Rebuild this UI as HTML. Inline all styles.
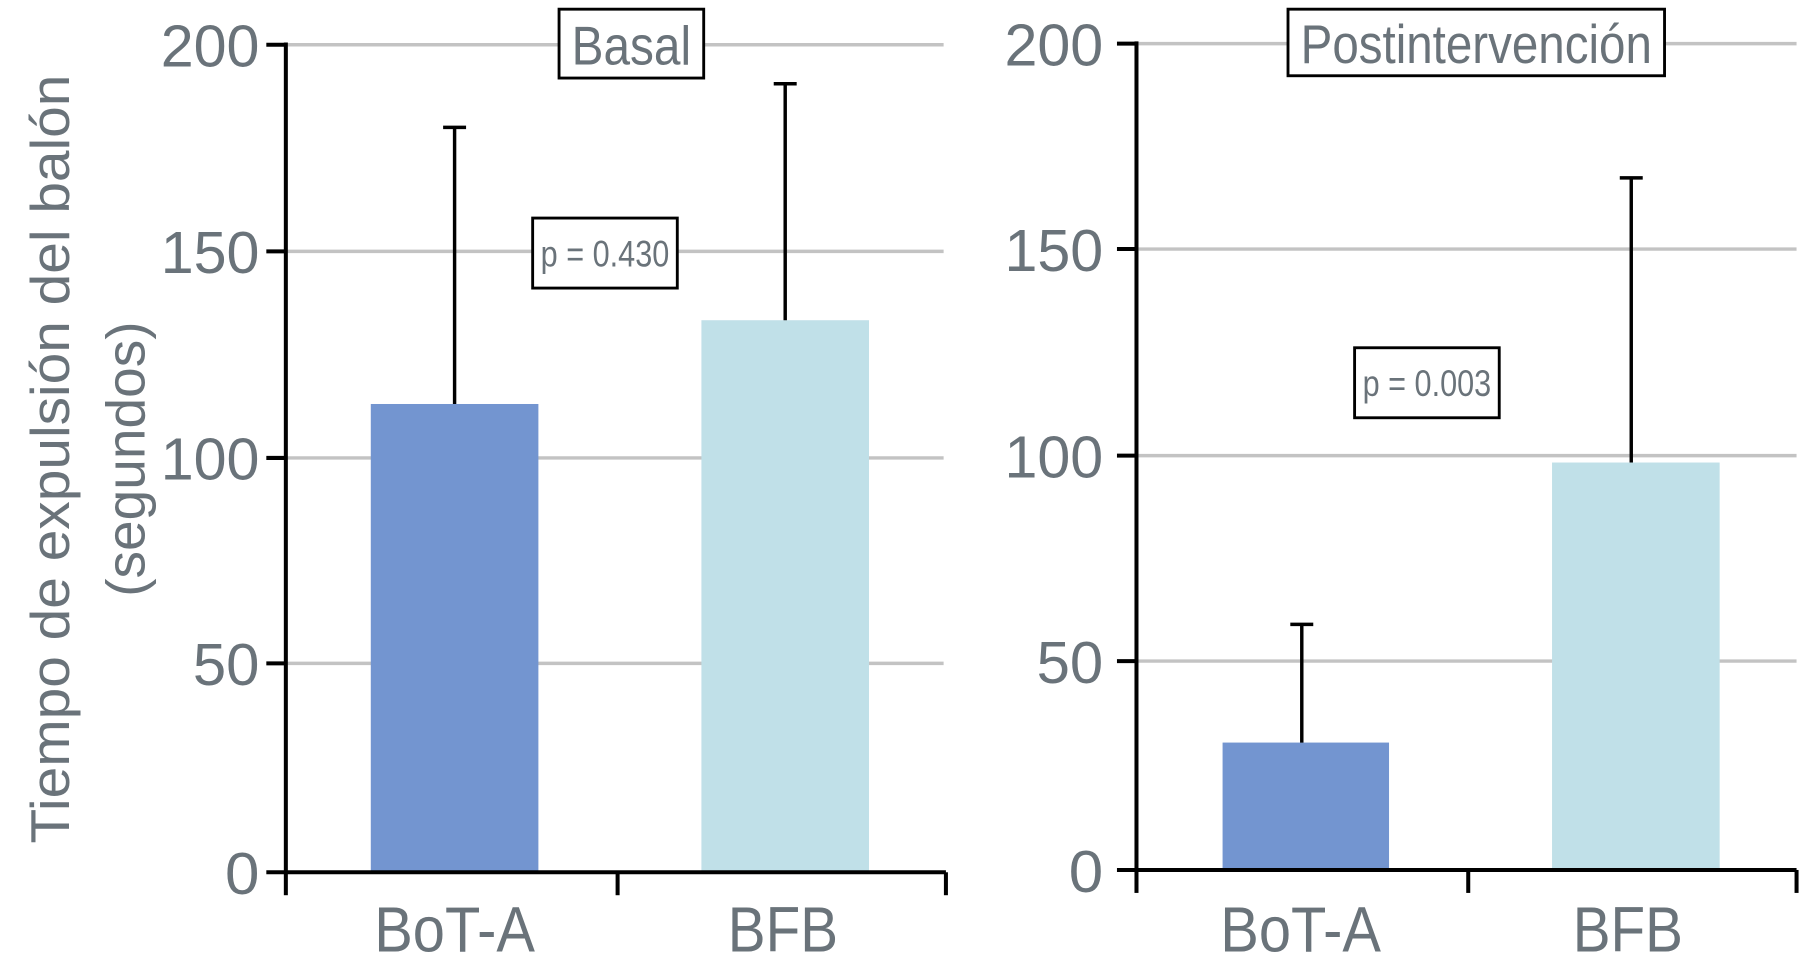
<!DOCTYPE html>
<html><head><meta charset="utf-8"><style>html,body{margin:0;padding:0;background:#fff;width:1800px;height:979px;overflow:hidden}svg{display:block}</style></head>
<body>
<svg width="1800" height="979" viewBox="0 0 1568 853" preserveAspectRatio="none" xmlns="http://www.w3.org/2000/svg" font-family="Liberation Sans, Arial, sans-serif" fill="#6a737a">
<rect width="1568" height="853" fill="#fff"/>
<g stroke="#c3c3c3" stroke-width="3">
<line x1="249" y1="39" x2="822" y2="39"/><line x1="249" y1="219" x2="822" y2="219"/><line x1="249" y1="399" x2="822" y2="399"/><line x1="249" y1="578" x2="822" y2="578"/>
<line x1="990" y1="38" x2="1565" y2="38"/><line x1="990" y1="217" x2="1565" y2="217"/><line x1="990" y1="397" x2="1565" y2="397"/><line x1="990" y1="576" x2="1565" y2="576"/>
</g>
<rect x="323" y="352" width="146" height="408" fill="#7395d0"/>
<rect x="611" y="279" width="146" height="481" fill="#c0e0e8"/>
<rect x="1065" y="647" width="145" height="111" fill="#7395d0"/>
<rect x="1352" y="403" width="146" height="355" fill="#c0e0e8"/>
<g stroke="#000" stroke-width="3">
<line x1="396" y1="352" x2="396" y2="111"/><line x1="386" y1="111" x2="406" y2="111"/>
<line x1="684" y1="279" x2="684" y2="73"/><line x1="674" y1="73" x2="694" y2="73"/>
<line x1="1134" y1="647" x2="1134" y2="544"/><line x1="1124" y1="544" x2="1144" y2="544"/>
<line x1="1421" y1="403" x2="1421" y2="155"/><line x1="1411" y1="155" x2="1431" y2="155"/>
</g>
<g stroke="#000" stroke-width="3.5" fill="none">
<polyline points="249,37 249,760 824,760"/>
<line x1="232" y1="39" x2="249" y2="39"/><line x1="232" y1="219" x2="249" y2="219"/><line x1="232" y1="399" x2="249" y2="399"/><line x1="232" y1="578" x2="249" y2="578"/><line x1="232" y1="760" x2="249" y2="760"/>
<line x1="249" y1="760" x2="249" y2="780"/><line x1="538" y1="760" x2="538" y2="780"/><line x1="824" y1="760" x2="824" y2="780"/>
<polyline points="990,36 990,758 1565,758"/>
<line x1="973" y1="38" x2="990" y2="38"/><line x1="973" y1="217" x2="990" y2="217"/><line x1="973" y1="397" x2="990" y2="397"/><line x1="973" y1="576" x2="990" y2="576"/><line x1="973" y1="758" x2="990" y2="758"/>
<line x1="990" y1="758" x2="990" y2="778"/><line x1="1279" y1="758" x2="1279" y2="778"/><line x1="1565" y1="758" x2="1565" y2="778"/>
</g>
<g font-size="52" text-anchor="end">
<text x="226" y="58" textLength="86" lengthAdjust="spacingAndGlyphs">200</text>
<text x="226" y="238" textLength="86" lengthAdjust="spacingAndGlyphs">150</text>
<text x="226" y="418" textLength="86" lengthAdjust="spacingAndGlyphs">100</text>
<text x="226" y="597" textLength="58" lengthAdjust="spacingAndGlyphs">50</text>
<text x="226" y="779" textLength="30" lengthAdjust="spacingAndGlyphs">0</text>
<text x="961" y="57" textLength="86" lengthAdjust="spacingAndGlyphs">200</text>
<text x="961" y="236" textLength="86" lengthAdjust="spacingAndGlyphs">150</text>
<text x="961" y="416" textLength="86" lengthAdjust="spacingAndGlyphs">100</text>
<text x="961" y="595" textLength="58" lengthAdjust="spacingAndGlyphs">50</text>
<text x="961" y="777" textLength="30" lengthAdjust="spacingAndGlyphs">0</text>
</g>
<g font-size="56" text-anchor="middle">
<text x="396" y="829" textLength="140" lengthAdjust="spacingAndGlyphs">BoT-A</text>
<text x="682" y="829" textLength="96" lengthAdjust="spacingAndGlyphs">BFB</text>
<text x="1133" y="829" textLength="140" lengthAdjust="spacingAndGlyphs">BoT-A</text>
<text x="1418" y="829" textLength="96" lengthAdjust="spacingAndGlyphs">BFB</text>
</g>
<g font-size="48" text-anchor="middle">
<text transform="translate(60,400) rotate(-90)" textLength="670" lengthAdjust="spacingAndGlyphs">Tiempo de expulsión del balón</text>
<text transform="translate(126,400) rotate(-90)" textLength="240" lengthAdjust="spacingAndGlyphs">(segundos)</text>
</g>
<rect x="487" y="8" width="126" height="60" fill="#fff" stroke="#000" stroke-width="2.5"/>
<text x="550" y="56" font-size="48" text-anchor="middle" textLength="104" lengthAdjust="spacingAndGlyphs">Basal</text>
<rect x="1122" y="8" width="328" height="58" fill="#fff" stroke="#000" stroke-width="2.5"/>
<text x="1286" y="55" font-size="48" text-anchor="middle" textLength="306" lengthAdjust="spacingAndGlyphs">Postintervención</text>
<rect x="464" y="190" width="126" height="61" fill="#fff" stroke="#000" stroke-width="2.5"/>
<text x="527" y="232" font-size="32" text-anchor="middle" textLength="112" lengthAdjust="spacingAndGlyphs">p = 0.430</text>
<rect x="1180" y="303" width="126" height="61" fill="#fff" stroke="#000" stroke-width="2.5"/>
<text x="1243" y="345" font-size="32" text-anchor="middle" textLength="112" lengthAdjust="spacingAndGlyphs">p = 0.003</text>
</svg>
</body></html>
